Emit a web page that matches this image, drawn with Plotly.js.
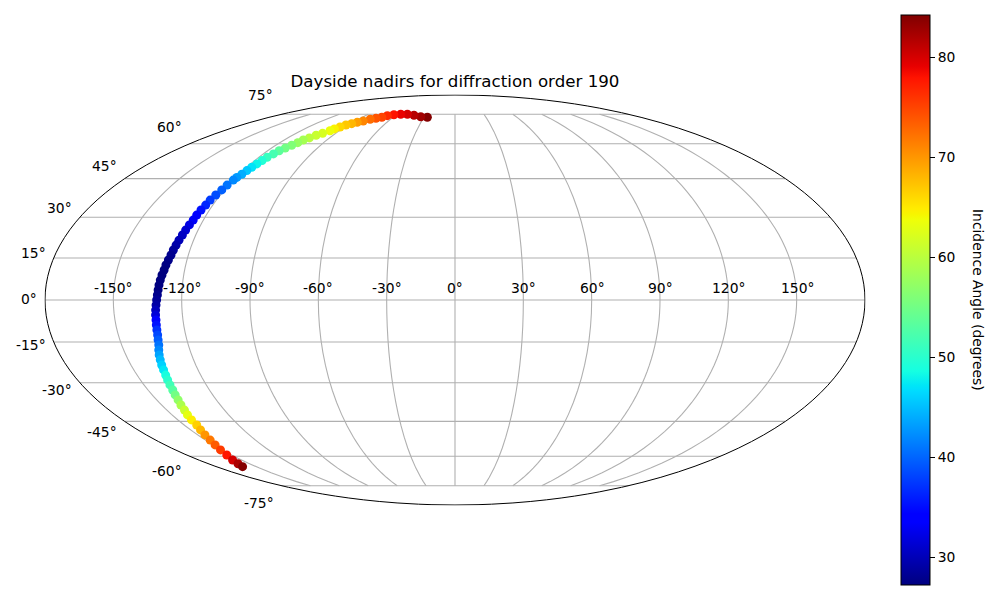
<!DOCTYPE html>
<html><head><meta charset="utf-8"><script src="https://cdn.plot.ly/plotly-3.0.1.min.js"></script>
<style>html,body{margin:0;padding:0;background:#fff}</style></head>
<body><div id="chart" style="width:1000px;height:600px"></div>
<script>
// All track values.
const lons=[-26.8,-33.6,-41.5,-49.4,-56.3,-62.6,-67.9,-70.9,-74.9,-79.0,-82.6,-86.0,-88.9,-91.9,-94.1,-96.1,-97.3,-99.8,-102.5,-104.4,-106.5,-107.7,-109.3,-111.0,-112.6,-113.6,-114.8,-115.5,-116.3,-117.1,-117.8,-118.5,-119.5,
-120.0,-120.8,-121.4,-122.3,-123.1,-123.5,-124.1,-124.6,-124.8,-125.3,-125.8,-126.2,-126.7,-127.1,-127.5,-127.8,-128.3,-128.8,-129.1,-129.6,-130.0,-130.3,-130.5,-130.7,-131.0,-131.3,-131.6,-131.8,-131.9,-132.1,-132.3,-132.5,-132.9,-133.3,-134.1,-134.8,-135.3,-135.8,-136.1,-136.5,-137.0,-137.5,-137.9,-138.6,-139.2,-140.1,-140.8,-141.8,-142.6,-143.1,-144.4,-145.8,-147.2,-148.9,-150.9,-153.1,-156.1,-158.3,-160.1];
const lats=[73.3,73.6,74.4,75.0,75.0,74.7,74.2,73.3,72.7,72.2,71.2,70.5,69.8,69.1,68.1,67.1,66.2,64.9,64.0,62.7,61.7,60.5,59.3,58.0,56.8,55.4,53.9,52.5,51.1,49.7,48.3,46.8,45.5,
44.4,42.4,40.5,38.5,36.5,34.6,32.7,30.8,28.9,27.1,25.2,23.4,21.5,19.7,17.9,16.1,14.3,12.5,10.7,8.9,7.1,5.3,3.6,1.8,0.0,-1.8,-3.6,-5.3,-7.1,-8.9,-10.7,-12.5,-14.3,-16.1,-17.9,-19.7,-21.5,-23.4,-25.2,-27.1,-28.9,-30.8,-32.7,-34.6,-36.5,-38.5,-40.5,-42.4,-44.4,-46.5,-48.5,-50.6,-52.8,-54.9,-57.1,-59.4,-61.7,-63.5,-64.9];
const incidence=[84,82.5,81.5,80,79,78,76.5,75,74,72.5,71,69.5,68,67,66,64.5,63.5,62,61,60,58.5,57.5,56,55,53.5,52,51,49.5,48,47,45.5,44,43,
42,40.8,39.7,38.6,37.6,36.4,35.2,34.2,33.2,32.2,31.3,30.6,30,29.3,28.6,28,27.7,27.4,27.2,27.1,27,27.1,27.3,27.8,28.4,29,30.2,31.5,33.5,35.3,37,38.3,39.5,40.7,42,43.5,44.8,46,47.2,48.7,50,51.5,53,55,57,59,61,63,64.7,66.5,68,70,71.8,73.5,75.5,77.8,80,82,84];
const lonTicks=[-150,-120,-90,-60,-30,0,30,60,90,120,150];
const latTicks=[75,60,45,30,15,0,-15,-30,-45,-60,-75];
const cbTicks=[30,40,50,60,70,80];
const titleText="Dayside nadirs for diffraction order 190";
const cbTitle="Incidence Angle (degrees)";

const jet=[[0,"rgb(0,0,127)"],[0.11,"rgb(0,0,255)"],[0.125,"rgb(0,0,255)"],[0.34,"rgb(0,219,255)"],[0.35,"rgb(0,230,247)"],[0.375,"rgb(21,255,226)"],[0.64,"rgb(239,255,8)"],[0.65,"rgb(247,246,0)"],[0.66,"rgb(255,236,0)"],[0.89,"rgb(255,19,0)"],[0.91,"rgb(232,0,0)"],[1,"rgb(128,0,0)"]];
const FONT="DejaVu Sans, sans-serif", FS=13.89;
const px=x=>x/1000, py=y=>1-y/600;
const lonLabelX=[113,182,250,318,387,455,523,592,660,728,797];
const latLabelRight=[274.5,183.5,118.5,73.5,47.5,38.5,47.5,73.5,118.5,183.5,275.5];
const latLabelY=[95,127,166,208,253,299,345,390,432,471,503];

const traces=lonTicks.map(l=>({type:"scattergeo",mode:"lines",lon:[l,l],lat:[-75,75],
  line:{color:"#b0b0b0",width:1.1},hoverinfo:"skip",showlegend:false}));
traces.push({type:"scattergeo",mode:"markers",lon:lons,lat:lats,showlegend:false,
  marker:{size:9,color:incidence,cmin:27.2,cmax:84.2,colorscale:jet,line:{width:0},
    colorbar:{x:0.901,xanchor:"left",y:py(15),yanchor:"top",lenmode:"pixels",len:570,thicknessmode:"pixels",thickness:29,
      xpad:0,ypad:0,outlinecolor:"#000",outlinewidth:1,ticks:"outside",ticklen:5,tickwidth:1,tickcolor:"#000",
      tickmode:"array",tickvals:cbTicks,ticktext:cbTicks.map(String),tickfont:{family:FONT,size:FS,color:"#000"}}}});

const notes=[];
lonTicks.forEach((l,i)=>notes.push({xref:"paper",yref:"paper",x:px(lonLabelX[i]),y:py(288),xanchor:"center",yanchor:"middle",showarrow:false,text:l+"°",font:{family:FONT,size:FS,color:"#000"}}));
latTicks.forEach((l,i)=>notes.push({xref:"paper",yref:"paper",x:px(latLabelRight[i]),y:py(latLabelY[i]),xanchor:"right",yanchor:"middle",showarrow:false,text:l+"°",font:{family:FONT,size:FS,color:"#000"}}));
notes.push({xref:"paper",yref:"paper",x:px(978),y:py(300),xanchor:"center",yanchor:"middle",showarrow:false,textangle:90,text:cbTitle,font:{family:FONT,size:FS,color:"#000"}});

const layout={width:1000,height:600,margin:{l:0,r:0,t:0,b:0,pad:0,autoexpand:false},paper_bgcolor:"#fff",
  font:{family:FONT,size:FS,color:"#000"},
  title:{text:titleText,x:px(455),xref:"paper",xanchor:"center",y:py(81),yref:"paper",yanchor:"middle",font:{family:FONT,size:16.67,color:"#000"}},
  geo:{domain:{x:[px(45),px(865)],y:[py(505),py(95)]},projection:{type:"mollweide"},bgcolor:"rgba(0,0,0,0)",
    showland:false,showocean:false,showlakes:false,showrivers:false,showcountries:false,showsubunits:false,showcoastlines:false,
    showframe:true,framecolor:"#000",framewidth:1,
    lonaxis:{showgrid:false,range:[-180,180]},
    lataxis:{showgrid:true,dtick:15,tick0:0,gridcolor:"#b0b0b0",gridwidth:1.1,range:[-90,90]}},
  annotations:notes,showlegend:false};
Plotly.newPlot("chart",traces,layout,{displayModeBar:false,staticPlot:true});
</script></body></html>
